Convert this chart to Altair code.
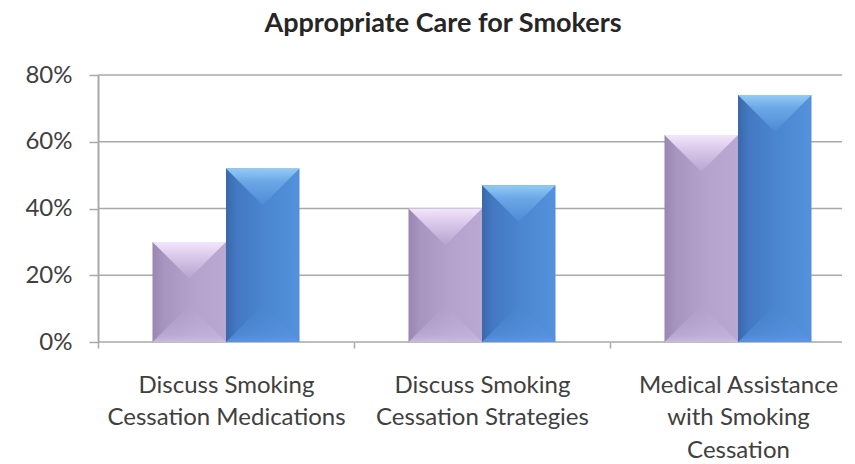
import altair as alt
import pandas as pd

# Categories (line breaks mark where each axis label wraps)
categories = [
    "Discuss Smoking\nCessation Medications",
    "Discuss Smoking\nCessation Strategies",
    "Medical Assistance\nwith Smoking\nCessation",
]
series_names = ["Series 1", "Series 2"]
series1_values = [30, 40, 62]
series2_values = [52, 47, 74]
y_ticks = [0, 20, 40, 60, 80]

rows = []
for cat, v in zip(categories, series1_values):
    rows.append({"category": cat, "series": series_names[0], "value": v})
for cat, v in zip(categories, series2_values):
    rows.append({"category": cat, "series": series_names[1], "value": v})
df = pd.DataFrame(rows)
grid_df = pd.DataFrame({"value": y_ticks})

FONT = "Lato"
GRID = "#a9a9a9"
PLOT_W = 744

x_enc = alt.X(
    "category:N",
    sort=categories,
    scale=alt.Scale(domain=categories, range=[0, 768], paddingInner=0, paddingOuter=0),
    axis=alt.Axis(
        title=None,
        domain=False,
        grid=False,
        labelAngle=0,
        labelLimit=0,
        labelExpr="split(datum.label, '\\n')",
        labelFont=FONT,
        labelFontSize=24,
        labelColor="#404040",
        labelLineHeight=32.5,
        labelPadding=25,
        labelBaseline="top",
        tickBand="extent",
        tickColor=GRID,
        tickSize=6,
        tickWidth=1.5,
    ),
)
# two bars per category, centred in each category band
xoff_enc = alt.XOffset(
    "series:N", scale=alt.Scale(domain=series_names, paddingInner=0, paddingOuter=0.741)
)
y_enc = alt.Y(
    "value:Q",
    scale=alt.Scale(domain=[0, 80], nice=False),
    axis=alt.Axis(
        title=None,
        values=y_ticks,
        labelExpr="datum.value + '%'",
        labelFont=FONT,
        labelFontSize=24,
        labelColor="#404040",
        labelPadding=17,
        tickSize=9,
        tickColor=GRID,
        tickWidth=1.5,
        domainColor=GRID,
        domainWidth=2,
        grid=False,
    ),
)


def hgrad(stops):
    return alt.Gradient(
        gradient="linear", x1=0, x2=1, y1=0, y2=0,
        stops=[alt.GradientStop(offset=o, color=c) for o, c in stops],
    )


def vgrad(stops):
    return alt.Gradient(
        gradient="linear", x1=0, x2=0, y1=0, y2=1,
        stops=[alt.GradientStop(offset=o, color=c) for o, c in stops],
    )


styles = {
    series_names[0]: {
        "body": hgrad([(0, "#9a87b0"), (0.15, "#a794bf"), (0.6, "#b5a3cd"), (1, "#baa8d2")]),
        "cap": vgrad([(0, "#f2e6fb"), (0.35, "#ddcbec"), (1, "#b6a4ce")]),
        "foot": vgrad([(0, "rgba(190,172,214,0)"), (0.8, "rgba(196,180,220,0.6)"), (1, "rgba(204,190,228,0.9)")]),
    },
    series_names[1]: {
        "body": hgrad([(0, "#3a68aa"), (0.15, "#4479c2"), (0.6, "#4c88d2"), (1, "#5592dc")]),
        "cap": vgrad([(0, "#93cbf6"), (0.35, "#6ca8e6"), (1, "#4d8ad4")]),
        "foot": vgrad([(0, "rgba(80,140,220,0)"), (0.8, "rgba(86,146,226,0.6)"), (1, "rgba(92,152,232,0.9)")]),
    },
}

# horizontal gridlines across the plot area (the category bands run past its right edge)
gridlines = (
    alt.Chart(grid_df)
    .mark_rule(color=GRID, strokeWidth=1.5)
    .encode(y=y_enc, x=alt.value(0), x2=alt.value(PLOT_W))
)

base = alt.Chart(df)
layers = [gridlines]
for s in series_names:
    sub = base.transform_filter(alt.datum.series == s)
    layers.append(
        sub.mark_bar(fill=styles[s]["body"], strokeWidth=0).encode(
            x=x_enc, xOffset=xoff_enc, y=y_enc
        )
    )
    # bevelled top: a triangle hanging from each bar's top edge
    layers.append(
        sub.mark_point(
            shape="M-1,0L1,0L0,1Z",
            size=5400,
            filled=True,
            fill=styles[s]["cap"],
            opacity=1,
            strokeWidth=0,
        ).encode(x=x_enc, xOffset=xoff_enc, y=y_enc)
    )
    # faint bevel along the base of each bar
    layers.append(
        sub.mark_point(
            shape="M-1,0L1,0L0,-1Z",
            size=5400,
            filled=True,
            fill=styles[s]["foot"],
            opacity=1,
            strokeWidth=0,
        ).encode(x=x_enc, xOffset=xoff_enc, y=alt.datum(0))
    )

chart = (
    alt.layer(*layers)
    .properties(
        width=PLOT_W,
        height=267,
        background="white",
        title=alt.Title(
            "Appropriate Care for Smokers",
            font=FONT,
            fontSize=27,
            fontWeight="bold",
            color="#262626",
            anchor="middle",
            dx=-27,
            offset=25,
        ),
        padding={"left": 98, "top": 75, "right": 13, "bottom": 122},
        autosize=alt.AutoSizeParams(type="none"),
    )
    .configure_view(strokeWidth=0, stroke="transparent")
)

chart.save("out.html", embed_options={"renderer": "svg", "actions": False})
